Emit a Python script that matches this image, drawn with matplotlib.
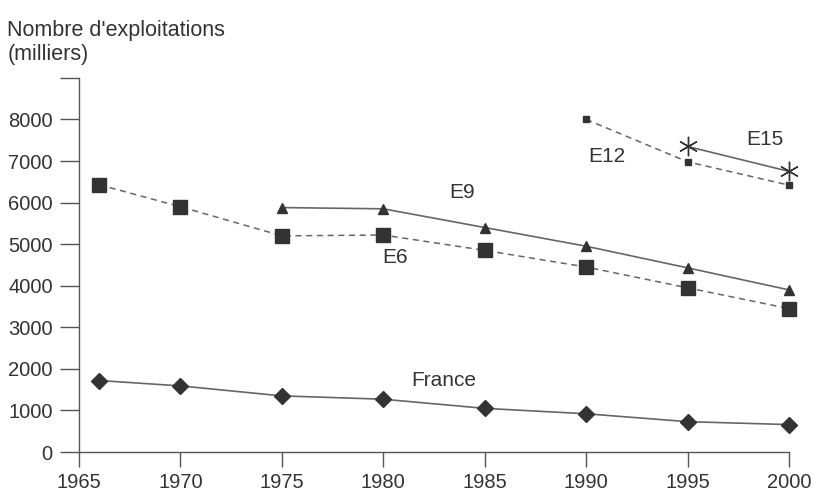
import numpy as np
import matplotlib.pyplot as plt

plt.rcParams['font.family'] = ['Liberation Sans', 'DejaVu Sans']

# Nombre d'exploitations agricoles (milliers)
years_france = [1966, 1970, 1975, 1980, 1985, 1990, 1995, 2000]
france = [1720, 1590, 1350, 1270, 1050, 920, 730, 660]

years_e6 = [1966, 1970, 1975, 1980, 1985, 1990, 1995, 2000]
e6 = [6430, 5900, 5200, 5220, 4850, 4450, 3950, 3450]

years_e9 = [1975, 1980, 1985, 1990, 1995, 2000]
e9 = [5880, 5850, 5400, 4950, 4430, 3900]

years_e12 = [1990, 1995, 2000]
e12 = [8000, 6980, 6420]

years_e15 = [1995, 2000]
e15 = [7350, 6750]

line_col = '#666666'
mark_col = '#333333'

fig = plt.figure(figsize=(8.18, 4.91), dpi=100)
ax = fig.add_axes([0.0966, 0.0794, 0.868, 0.762])

common = dict(color=line_col, mfc=mark_col, mec=mark_col, zorder=3, clip_on=False)
ax.plot(years_france, france, lw=1.2, marker='D', ms=8, **common)
ax.plot(years_e6, e6, lw=1.1, ls=(0, (4, 3)), marker='s', ms=10, **common)
ax.plot(years_e9, e9, lw=1.2, marker='^', ms=7, **common)
ax.plot(years_e12, e12, lw=1.1, ls=(0, (4, 3)), marker='s', ms=5, **common)
ax.plot(years_e15, e15, lw=1.2, marker=(6, 2, 0), ms=14, mew=1.0, **common)

lab = dict(fontsize=15, color='#333333', ha='center', va='center')
ax.text(1983.9, 6240, 'E9', **lab)
ax.text(1980.6, 4675, 'E6', **lab)
ax.text(1991.0, 7110, 'E12', **lab)
ax.text(1998.8, 7520, 'E15', **lab)
ax.text(1983.0, 1710, 'France', **lab)

ax.set_xlim(1965, 2000)
ax.set_ylim(0, 9000)
ax.set_xticks(np.arange(1965, 2001, 5))
ax.set_yticks([0, 1000, 2000, 3000, 4000, 5000, 6000, 7000, 8000, 9000])
ax.set_yticklabels(['0', '1000', '2000', '3000', '4000', '5000', '6000', '7000', '8000', ''])

for s in ['top', 'right']:
    ax.spines[s].set_visible(False)
for s in ['left', 'bottom']:
    ax.spines[s].set_color('#555555')
    ax.spines[s].set_linewidth(1.0)

ax.tick_params(axis='y', direction='out', length=14, width=1.0, color='#555555',
               labelsize=14.5, labelcolor='#333333', pad=5)
ax.tick_params(axis='x', direction='out', length=11, width=1.0, color='#555555',
               labelsize=14.5, labelcolor='#333333', pad=4)

fig.text(0.009, 0.937, "Nombre d'exploitations", fontsize=15.5, color='#333333',
         ha='left', va='center')
fig.text(0.009, 0.889, "(milliers)", fontsize=15.5, color='#333333',
         ha='left', va='center')

fig.savefig('out.png', dpi=100, facecolor='white')
